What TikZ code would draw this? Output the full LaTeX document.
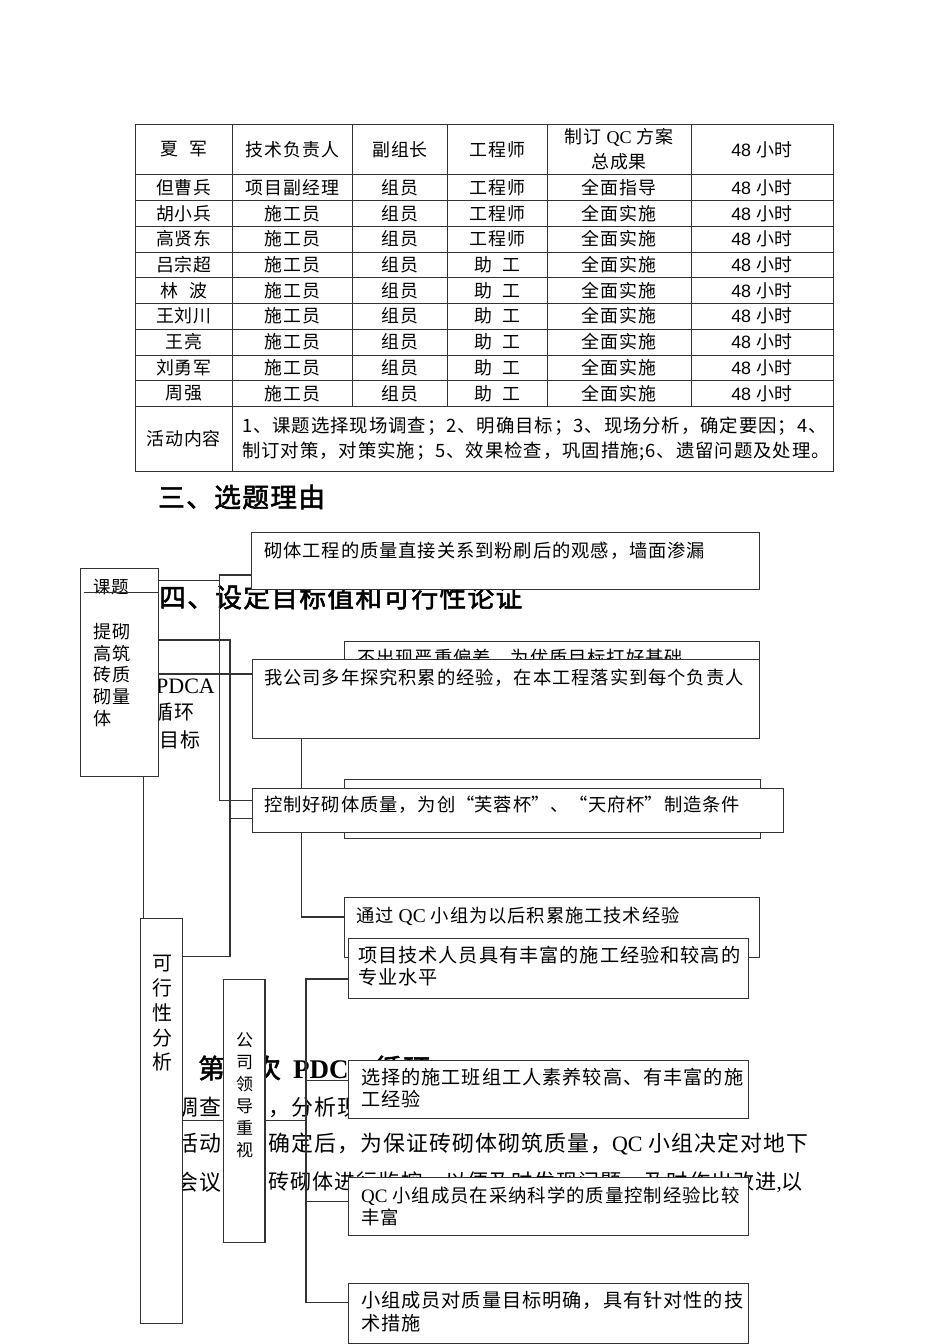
\documentclass[tikz,border=0pt]{standalone}
\usepackage{fontspec}
\setmainfont{Noto Sans CJK SC}[LetterSpace=5]
\newfontfamily\cjkb{Noto Sans CJK SC}[LetterSpace=5,FakeBold=2]
\newfontfamily\lat{Liberation Serif}
\newfontfamily\las{Liberation Sans}
\usetikzlibrary{calc}
\pgfdeclarelayer{textbg}
\pgfdeclarelayer{wires}
\pgfdeclarelayer{front}
\pgfsetlayers{textbg,wires,main,front}
\newcommand\fs[2]{\fontsize{#1}{#2}\selectfont}
\newcommand\oq{\makebox[1.05em][r]{“}}
\newcommand\cq{\makebox[1.05em][l]{”}}
\newcommand\zg{助\hspace{0.55em}工}
\newcommand\lb{林\hspace{0.6em}波}
\newcommand\hrs{{\las 48} 小时}
\tikzset{
  bx/.style={draw=black!80, line width=1.2pt, fill=white, inner sep=0, anchor=north west},
  wire/.style={draw=black!80, line width=1.2pt},
  tline/.style={draw=black!80, line width=0.9pt},
  tl/.style={inner sep=0, font=\fs{17.9}{25}},
  bt/.style={inner sep=0, anchor=west, font=\fs{18.3}{22}},
  bttwo/.style={inner sep=0, anchor=west, align=left, font=\fs{19.2}{22.3}},
  hd/.style={inner sep=0, anchor=west, font=\cjkb\fs{26.7}{30}},
  bd/.style={inner sep=0, anchor=west, font=\fs{21.9}{24}},
}
\begin{document}
\begin{tikzpicture}[x=1pt,y=-1pt]
\useasboundingbox (0,0) rectangle (950,1344);
\begin{pgfonlayer}{textbg}
\fill[white] (0,0) rectangle (950,1344);
% ---------- table ----------
\draw[tline] (135,124.5) rectangle (833.5,471);
\foreach \yy in {174.5,200.5,226,252,277.5,303,329,355,380.5,406}
  \draw[tline] (135,\yy) -- (833.5,\yy);
\draw[tline] (232.5,124.5) -- (232.5,471);
\foreach \xx in {352.5,447.5,547,691}
  \draw[tline] (\xx,124.5) -- (\xx,406);
\node[tl] (h1a) at (183.75,149.5) {夏\hspace{0.6em}军};
\node[tl] (h1b) at (292.5,149.5) {技术负责人};
\node[tl] (h1c) at (400,149.5) {副组长};
\node[tl] (h1d) at (497.3,149.5) {工程师};
\node[tl, align=center] (h1e) at (619,149.5) {制订 {\lat\fs{18}{25}QC} 方案\\总成果};
\node[tl] (h1f) at (762,149.5) {\hrs};
\foreach \y/\a/\b/\c/\d/\e [count=\i] in {
  187.5/但曹兵/项目副经理/组员/工程师/全面指导,
  213.25/胡小兵/施工员/组员/工程师/全面实施,
  239/高贤东/施工员/组员/工程师/全面实施,
  264.75/吕宗超/施工员/组员/\zg/全面实施,
  290.25/\lb/施工员/组员/\zg/全面实施,
  316/王刘川/施工员/组员/\zg/全面实施,
  342/王亮/施工员/组员/\zg/全面实施,
  367.75/刘勇军/施工员/组员/\zg/全面实施,
  393.25/周强/施工员/组员/\zg/全面实施}{
  \node[tl] (ra\i) at (183.75,\y) {\a};
  \node[tl] (rb\i) at (292.5,\y) {\b};
  \node[tl] (rc\i) at (400,\y) {\c};
  \node[tl] (rd\i) at (497.3,\y) {\d};
  \node[tl] (re\i) at (619,\y) {\e};
  \node[tl] (rf\i) at (762,\y) {\hrs};
}
\node[tl] (actl) at (183.75,438.5) {活动内容};
\node[tl, anchor=west, align=left, font=\fs{18.4}{25}] (act) at (242,438.5)
  {1、课题选择现场调查；2、明确目标；3、现场分析，确定要因；4、\\制订对策，对策实施；5、效果检查，巩固措施;6、遗留问题及处理。};
% ---------- page text behind the chart ----------
\node[hd] (h3) at (158,497) {三、选题理由};
\node[hd] (h4) at (159,597) {四、设定目标值和可行性论证};
\node[inner sep=0, anchor=west, font=\lat\fs{22}{26}] (pd1) at (156,686.7) {PDCA};
\node[inner sep=0, anchor=west, font=\fs{20}{26}] (pd2) at (153,711.7) {循环};
\node[inner sep=0, anchor=west, font=\fs{20}{26}] (pd3) at (159,740) {目标};
\node[hd] (h5) at (142,1068) {五、第一次};
\node[inner sep=0, anchor=west, font=\fs{27}{30}] (h5b) at (293,1068)
  {{\lat\bfseries PDCA} {\cjkb\fs{26.7}{30}循环}};
\node[bd] (l1a) at (176,1107) {调查};
\node[bd] (l1b) at (268,1107) {，分析现};
\node[bd] (l2a) at (176,1143.5) {活动};
\node[bd] (l2b) at (268,1143.5) {确定后，为保证砖砌体砌筑质量，{\lat\fs{22}{24}QC} 小组决定对地下};
\node[bd] (l3a) at (176,1182) {会议中};
\node[bd, font=\fs{21.1}{24}] (l3b) at (268,1182) {砖砌体进行监控，以便及时发现问题，及时作出改进{\lat,}以};
\end{pgfonlayer}
% ---------- boxes ----------
\node[bx, minimum width=78pt, minimum height=208pt] (kt) at (80,568) {};
\node[inner sep=0, anchor=west, font=\fs{17.5}{20}] (kt1) at (93,587) {课题};
\node[inner sep=0, anchor=west, align=left, font=\fs{18.1}{21.6}] (kt2) at (93,675) {提砌\\高筑\\砖质\\砌量\\体};
\node[bx, minimum width=42pt, minimum height=405pt] (kx) at (140,918) {};
\node[inner sep=0, align=center, font=\fs{20}{24.75}] (kxt) at (162,1013.5) {可\\行\\性\\分\\析};
\node[bx, minimum width=41.6pt, minimum height=263pt] (gs) at (222.7,979) {};
\node[inner sep=0, align=center, font=\fs{17}{22}] (gst) at (244.5,1095) {公\\司\\领\\导\\重\\视};
\node[bx, minimum width=508pt, minimum height=57pt] (b1) at (251,532) {};
\node[bt] (t1) at (264,551) {砌体工程的质量直接关系到粉刷后的观感，墙面渗漏};
\node[bx, minimum width=415pt, minimum height=59pt] (b2) at (344,641) {};
\node[bt] (t2) at (357,658) {不出现严重偏差，为优质目标打好基础};
\node[bx, minimum width=507.5pt, minimum height=79pt] (b3) at (251.5,659) {};
\node[bt] (t3) at (264,678) {我公司多年探究积累的经验，在本工程落实到每个负责人};
\node[bx, minimum width=416pt, minimum height=59pt] (b4) at (344,779) {};
\node[bx, minimum width=531.5pt, minimum height=44pt] (b5) at (251.5,787.5) {};
\node[bt] (t5) at (264,805) {控制好砌体质量，为创\oq 芙蓉杯\cq 、\oq 天府杯\cq 制造条件};
\node[bx, minimum width=414.5pt, minimum height=59.5pt] (b6) at (344,897) {};
\node[bt] (t6) at (356,916.7) {通过 {\lat\fs{19.5}{22}QC} 小组为以后积累施工技术经验};
\node[bx, minimum width=400.5pt, minimum height=60pt] (b7) at (347.5,938) {};
\node[bttwo] (t7) at (358,966) {项目技术人员具有丰富的施工经验和较高的\\专业水平};
\node[bx, minimum width=400pt, minimum height=57.5pt] (b8) at (348,1060) {};
\node[bttwo] (t8) at (361,1088) {选择的施工班组工人素养较高、有丰富的施\\工经验};
\node[bx, minimum width=400pt, minimum height=58pt] (b9) at (348,1176.5) {};
\node[bttwo, font=\fs{18.4}{22.3}] (t9) at (361,1206.5) {{\lat\fs{19}{22}QC} 小组成员在采纳科学的质量控制经验比较\\丰富};
\node[bx, minimum width=400pt, minimum height=59.5pt] (b10) at (348,1283) {};
\node[bttwo] (t10) at (361,1311.5) {小组成员对质量目标明确，具有针对性的技\\术措施};
% ---------- connectors ----------
\begin{pgfonlayer}{wires}
\coordinate (xa) at (219.5,0);
\coordinate (xb) at (230,0);
\coordinate (xc) at (301.7,0);
\coordinate (xd) at (306,0);
\coordinate (xe) at (143.3,0);
\coordinate (kA) at ($(kt.north east)+(0,12.5)$);
\coordinate (kB) at ($(kt.north east)+(0,72)$);
\coordinate (kC) at ($(kt.north east)+(0,106)$);
\coordinate (b1L) at ($(b1.north west)+(0,43)$);
\coordinate (b5La) at ($(b5.north west)+(0,13)$);
\coordinate (b5Lb) at ($(b5.north west)+(0,31)$);
\coordinate (kxR) at ($(kx.north east)+(0,38.5)$);
\coordinate (kxR2) at ($(kx.north east)+(0,202.5)$);
\coordinate (b3L) at (b3.west |- kC);
\coordinate (b6L) at ($(b6.north west)+(0,20)$);
\coordinate (b7L) at ($(b7.north west)+(0,41)$);
\coordinate (b8L) at ($(b8.north west)+(0,20.7)$);
\coordinate (b9L) at ($(b9.north west)+(0,25)$);
\coordinate (b10L) at ($(b10.north west)+(0,19.5)$);
\draw[wire] (kA) -- (kA -| xa);
\draw[wire] (b1L) -| (xa |- b5La) -- (b5La);
\draw[wire] (kB) -| (xb |- kxR) -- (kxR);
\draw[wire] (xb |- b5Lb) -- (b5Lb);
\draw[wire] (kC) -- (b3L);
\draw[wire] (kt.south -| xe) -- (kx.north -| xe);
\draw[wire] (b3.south -| xc) -- (xc |- b6L) -- (b6L);
\draw[wire] (kxR2) -- (kxR2 -| xd);
\draw[wire] (b7L) -| (xd |- b10L) -- (b10L);
\draw[wire] (xd |- b8L) -- (b8L);
\draw[wire] (xd |- b9L) -- (b9L);
\end{pgfonlayer}
\begin{pgfonlayer}{front}
\draw[wire] ($(kt.north west)+(3.5,24.7)$) -- ($(kt.north east)+(0,24.7)$);
\end{pgfonlayer}
\end{tikzpicture}
\end{document}
